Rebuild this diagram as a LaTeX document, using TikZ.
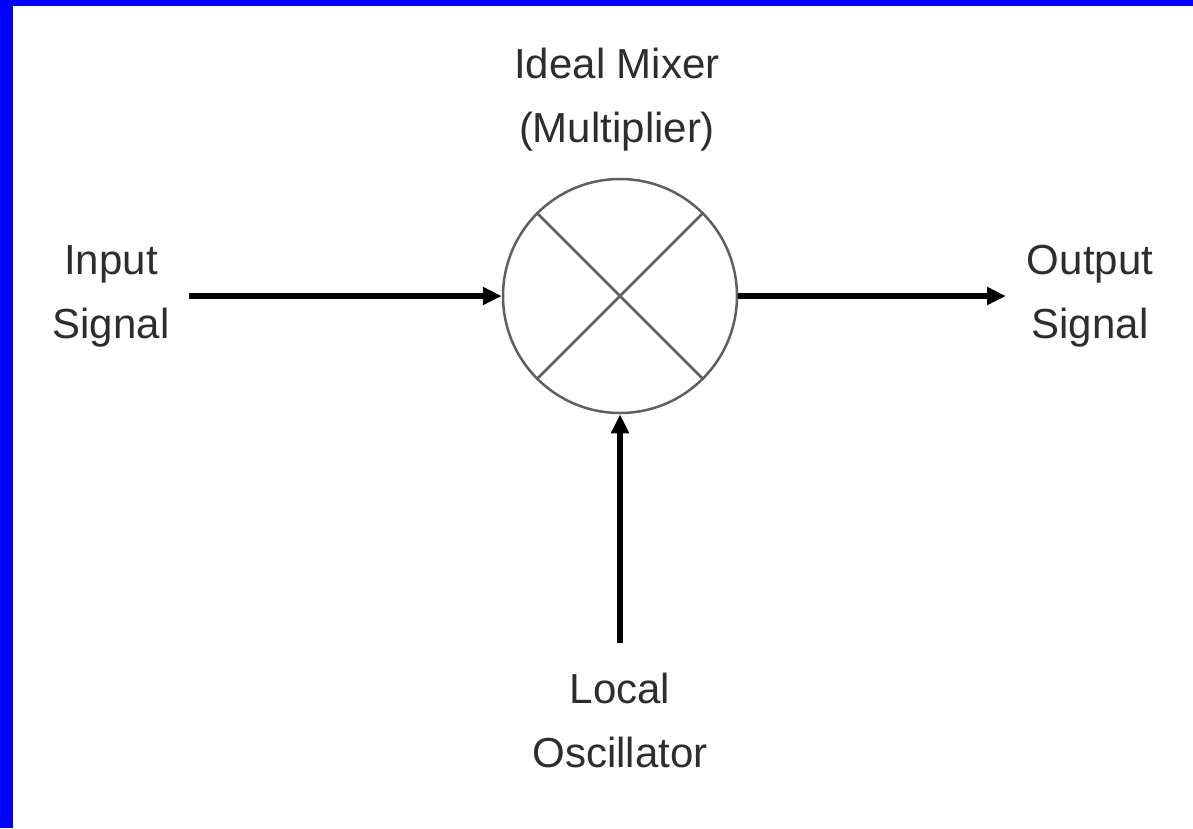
\documentclass[tikz,border=0pt]{standalone}
\usepackage{fontspec}
\setmainfont{Liberation Sans}
\usetikzlibrary{arrows.meta}
\definecolor{frameblue}{RGB}{0,0,255}
\definecolor{txt}{RGB}{45,45,45}
\definecolor{ringgray}{RGB}{95,95,95}
\tikzset{
  lbl/.style={text=txt, align=center, inner sep=0pt, font=\fontsize{42}{64}\selectfont},
  sig/.style={line width=5.5pt, black, -{Triangle[length=19pt,width=17pt]}},
  ring/.style={draw=ringgray, line width=2.5pt},
  crossln/.style={draw=ringgray, line width=2.5pt}
}
\begin{document}
\begin{tikzpicture}[x=1pt,y=-1pt]
\useasboundingbox (0,0) rectangle (1193,828);
\fill[white] (0,0) rectangle (1193,828);
\fill[frameblue] (0,0) rectangle (13,828);
\fill[frameblue] (0,0) rectangle (1193,6);
% mixer
\node[circle, ring, minimum size=234pt, inner sep=0pt] (mix) at (620,296) {};
\draw[crossln] (mix.135) -- (mix.-45);
\draw[crossln] (mix.45) -- (mix.-135);
% labels
\node[lbl] (mixlbl) at (617,100) {Ideal Mixer\\(Multiplier)};
\node[lbl] (in) at (111,296) {Input\\Signal};
\node[lbl] (out) at (1090,296) {Output\\Signal};
\node[lbl] (lo) at (620,720) {Local\\Oscillator};
% connectors
\coordinate (inS) at (189,296);
\coordinate (outE) at (1006,296);
\coordinate (loS) at (620,643);
\draw[sig] (inS) -- (mix.west);
\draw[sig] (mix.east) -- (outE);
\draw[sig] (loS) -- (mix.south);
\end{tikzpicture}
\end{document}
